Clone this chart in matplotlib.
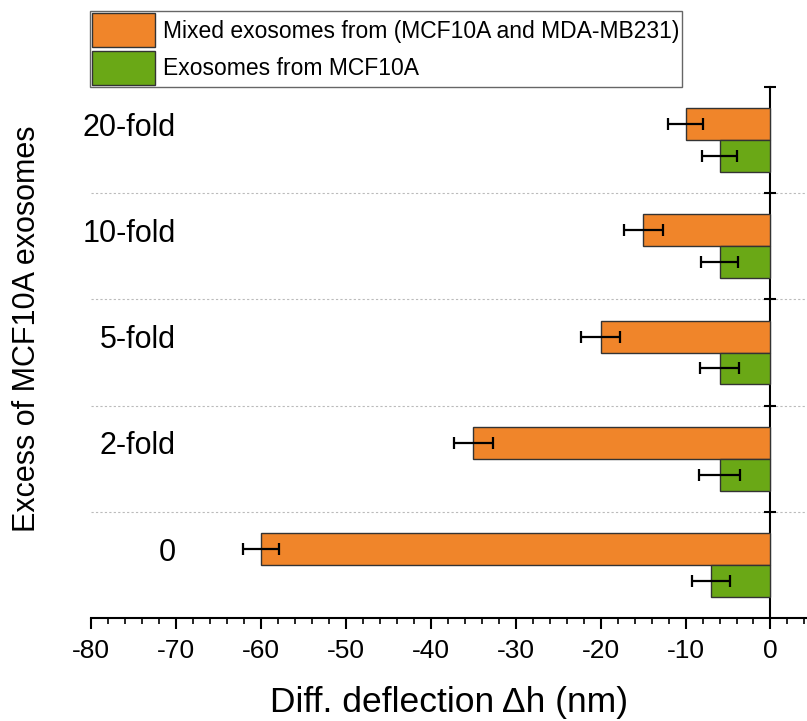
import matplotlib.pyplot as plt
import numpy as np

plt.rcParams['font.family'] = ['Liberation Sans', 'DejaVu Sans']
plt.rcParams['axes.unicode_minus'] = False

# data
categories = ['0', '2-fold', '5-fold', '10-fold', '20-fold']
mixed = [-60, -35, -20, -15, -10]
mixed_err = [2.1, 2.3, 2.3, 2.3, 2.1]
mcf10a = [-7, -6, -6, -6, -6]
mcf10a_err = [2.2, 2.4, 2.3, 2.2, 2.1]

ORANGE = '#F0852A'
GREEN = '#6AA816'

fig = plt.figure(figsize=(8.07, 7.21), dpi=100)
ax = fig.add_axes([91 / 807, 1 - 618 / 721, 716 / 807, 531 / 721])

pos = np.arange(len(categories))
h = 0.3
ekw = dict(elinewidth=1.6, capthick=1.6, capsize=4, ecolor='black')
b1 = ax.barh(pos + h / 2, mixed, height=h, color=ORANGE, edgecolor='#333333',
             linewidth=1.0, xerr=mixed_err, error_kw=ekw, zorder=3,
             label='Mixed exosomes from (MCF10A and MDA-MB231)')
b2 = ax.barh(pos - h / 2, mcf10a, height=h, color=GREEN, edgecolor='#333333',
             linewidth=1.0, xerr=mcf10a_err, error_kw=ekw, zorder=3,
             label='Exosomes from MCF10A')

for y in pos[:-1] + 0.5:
    ax.axhline(y, color='#bbbbbb', lw=0.8, ls=(0, (2, 2)), zorder=1)

for p, c in zip(pos, categories):
    ax.text(-70, p + 0.04, c, ha='right', va='baseline', fontsize=22)

ax.set_xlim(-80, 4.3)
ax.set_ylim(-0.5, 4.5)
ax.set_xticks(np.arange(-80, 1, 10))
ax.set_xticks(np.arange(-80, 5, 2), minor=True)
ax.set_yticks(pos + 0.5)
ax.set_yticklabels([])
ax.tick_params(axis='x', which='major', length=8, width=1.5, labelsize=19, pad=7)
ax.tick_params(axis='x', which='minor', length=4.3, width=1.2)
ax.tick_params(axis='y', which='major', direction='inout', length=8.6, width=1.5)

ax.spines['left'].set_position(('data', 0))
ax.spines['left'].set_linewidth(1.5)
ax.spines['bottom'].set_linewidth(1.5)
ax.spines['top'].set_visible(False)
ax.spines['right'].set_visible(False)

ax.set_xlabel('Diff. deflection \u0394h (nm)', fontsize=25.5, labelpad=17)
fig.text(27 / 807, 1 - 329 / 721, 'Excess of MCF10A exosomes', rotation=90,
         ha='center', va='center', fontsize=22)

leg = fig.legend(handles=[b1, b2], loc='upper left',
                 bbox_to_anchor=(90 / 807, 1 - 11 / 721), fontsize=16.5,
                 handlelength=2.75, handleheight=1.91, handletextpad=0.35,
                 labelspacing=0.16, borderpad=0.1, borderaxespad=0,
                 fancybox=False, edgecolor='#666666', framealpha=1)
leg.get_frame().set_linewidth(1.0)

fig.savefig('out.png', dpi=100)
